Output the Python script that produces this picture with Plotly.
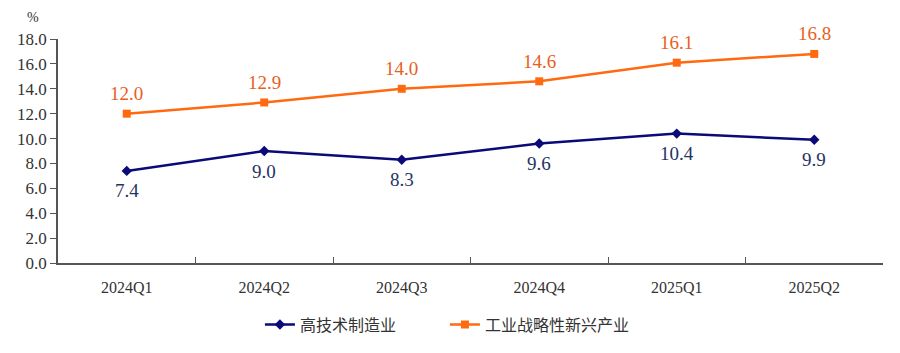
import plotly.graph_objects as go

quarters = ["2024Q1", "2024Q2", "2024Q3", "2024Q4", "2025Q1", "2025Q2"]
hightech = [7.4, 9.0, 8.3, 9.6, 10.4, 9.9]
strategic = [12.0, 12.9, 14.0, 14.6, 16.1, 16.8]
name_hightech = "高技术制造业"
name_strategic = "工业战略性新兴产业"
y_ticks = [0, 2, 4, 6, 8, 10, 12, 14, 16, 18]

blue_line = "#0A0A78"
blue_text = "#1F3464"
orange_line = "#FF6A10"
orange_text = "#E8601C"
serif = "Liberation Serif, DejaVu Serif, serif"
cjk = "Noto Sans CJK SC, sans-serif"

fig = go.Figure()
fig.add_trace(go.Scatter(
    x=quarters, y=hightech, name=name_hightech, mode="lines+markers",
    line=dict(color=blue_line, width=2.5),
    marker=dict(symbol="diamond", size=8, color=blue_line),
))
fig.add_trace(go.Scatter(
    x=quarters, y=strategic, name=name_strategic, mode="lines+markers",
    line=dict(color=orange_line, width=2.5),
    marker=dict(symbol="square", size=8, color=orange_line),
))

anns = []
for q, v in zip(quarters, hightech):
    anns.append(dict(x=q, y=v, text=f"{v:.1f}", showarrow=False, yshift=-20,
                     font=dict(family=serif, size=19, color=blue_text)))
for q, v in zip(quarters, strategic):
    anns.append(dict(x=q, y=v, text=f"{v:.1f}", showarrow=False, yshift=20,
                     font=dict(family=serif, size=19, color=orange_text)))
anns.append(dict(xref="paper", yref="paper", x=-0.030, y=1.097, xanchor="center",
                 yanchor="middle", text="%", showarrow=False,
                 font=dict(family=serif, size=14, color="#333333")))

fig.update_layout(
    width=900, height=353,
    margin=dict(l=58, r=17, t=39, b=87),
    plot_bgcolor="white", paper_bgcolor="white",
    showlegend=True,
    legend=dict(orientation="h", x=0.469, xanchor="center", y=-0.275, yanchor="middle",
                font=dict(family=cjk, size=16, color="#333333"), itemwidth=30,
                entrywidth=140, tracegroupgap=0),
    annotations=anns,
    xaxis=dict(type="category", range=[-0.5, 5.5], showline=True, linecolor="#555555",
               linewidth=1.5, ticks="inside", tickson="boundaries", ticklen=6,
               tickcolor="#555555", showgrid=False, zeroline=False,
               ticklabelstandoff=9,
               tickfont=dict(family=serif, size=16, color="#333333")),
    yaxis=dict(range=[0, 18], tickvals=y_ticks, tickformat=".1f", showline=True,
               linecolor="#555555", linewidth=1.5, ticks="outside", ticklen=6,
               tickcolor="#555555", showgrid=False, zeroline=False,
               tickfont=dict(family=serif, size=17, color="#333333")),
)

fig.write_html("out.html")
